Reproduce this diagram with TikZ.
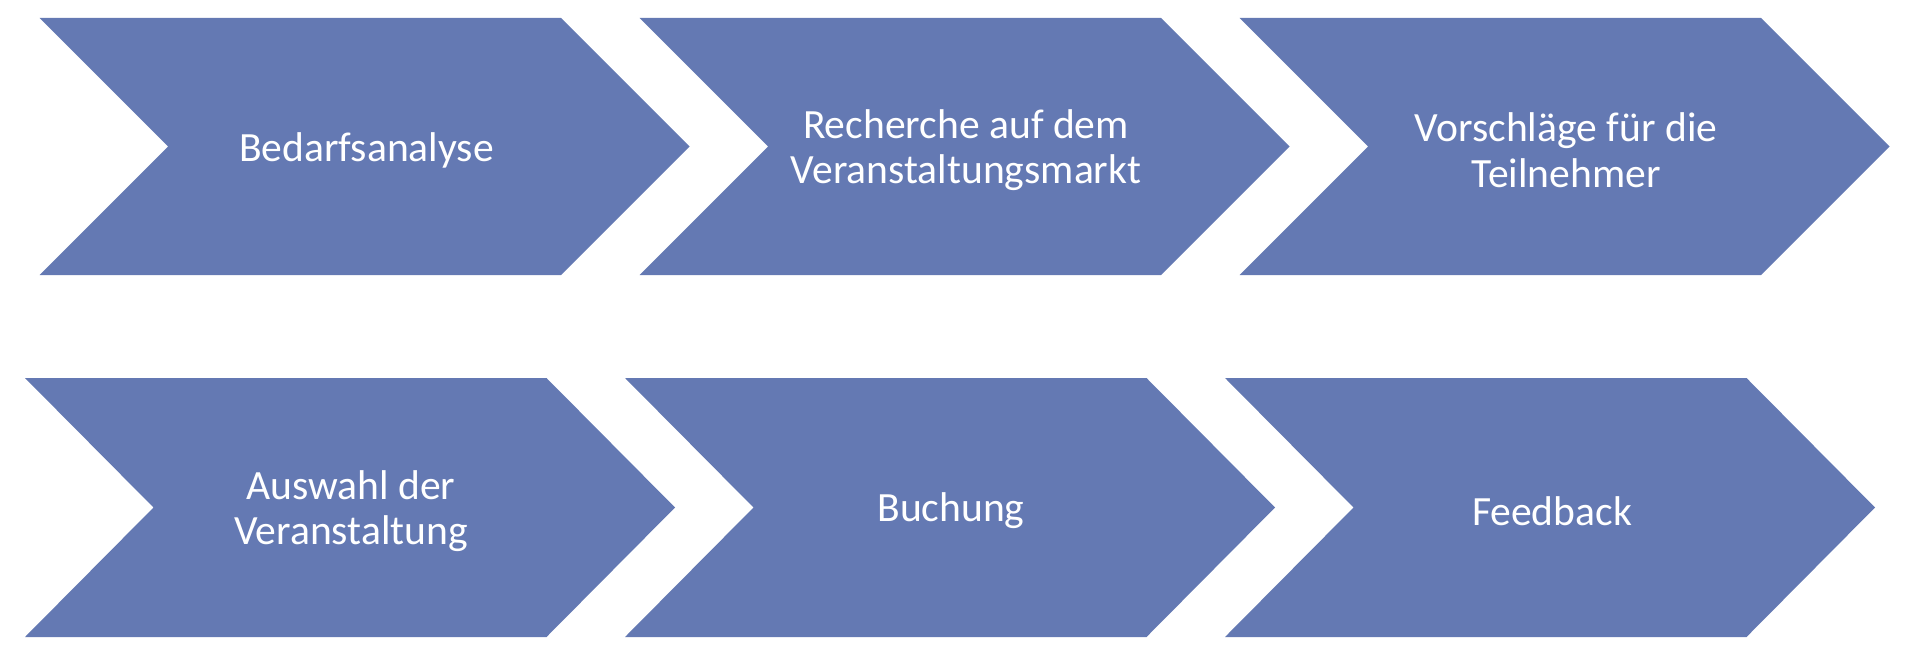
\documentclass[tikz,border=0pt]{standalone}
\usepackage{fontspec}
\setmainfont{Carlito}
\definecolor{chev}{HTML}{6479B3}
\begin{document}
\begin{tikzpicture}[x=0.5pt,y=-0.5pt,
  chevfill/.style={fill=chev,draw=none},
  lbl/.style={text=white,align=center,inner sep=0pt,font=\fontsize{20.8}{22.8}\selectfont}]
\useasboundingbox (0,0) rectangle (1920,658);
% top row
\foreach \i/\lx in {0/39.5,1/639.5,2/1239.5}{
  \fill[chevfill] (\lx,18) -- ({\lx+521.5},18) -- ({\lx+650},146.5) -- ({\lx+521.5},275)
     -- (\lx,275) -- ({\lx+128.5},146.5) -- cycle;
}
% bottom row
\foreach \i/\lx in {0/25,1/625,2/1225}{
  \fill[chevfill] (\lx,378) -- ({\lx+521.5},378) -- ({\lx+650},507.5) -- ({\lx+521.5},637)
     -- (\lx,637) -- ({\lx+128.5},507.5) -- cycle;
}
\node[lbl] (t1) at (366.5,150) {Bedarfsanalyse};
\node[lbl] (t2) at (966,150) {Recherche auf dem\\Veranstaltungsmarkt};
\node[lbl] (t3) at (1566,150) {Vorschläge für die\\Teilnehmer};
\node[lbl] (b1) at (351,511) {Auswahl der\\Veranstaltung};
\node[lbl] (b2) at (951,511) {Buchung};
\node[lbl] (b3) at (1552,511) {Feedback};
\end{tikzpicture}
\end{document}
